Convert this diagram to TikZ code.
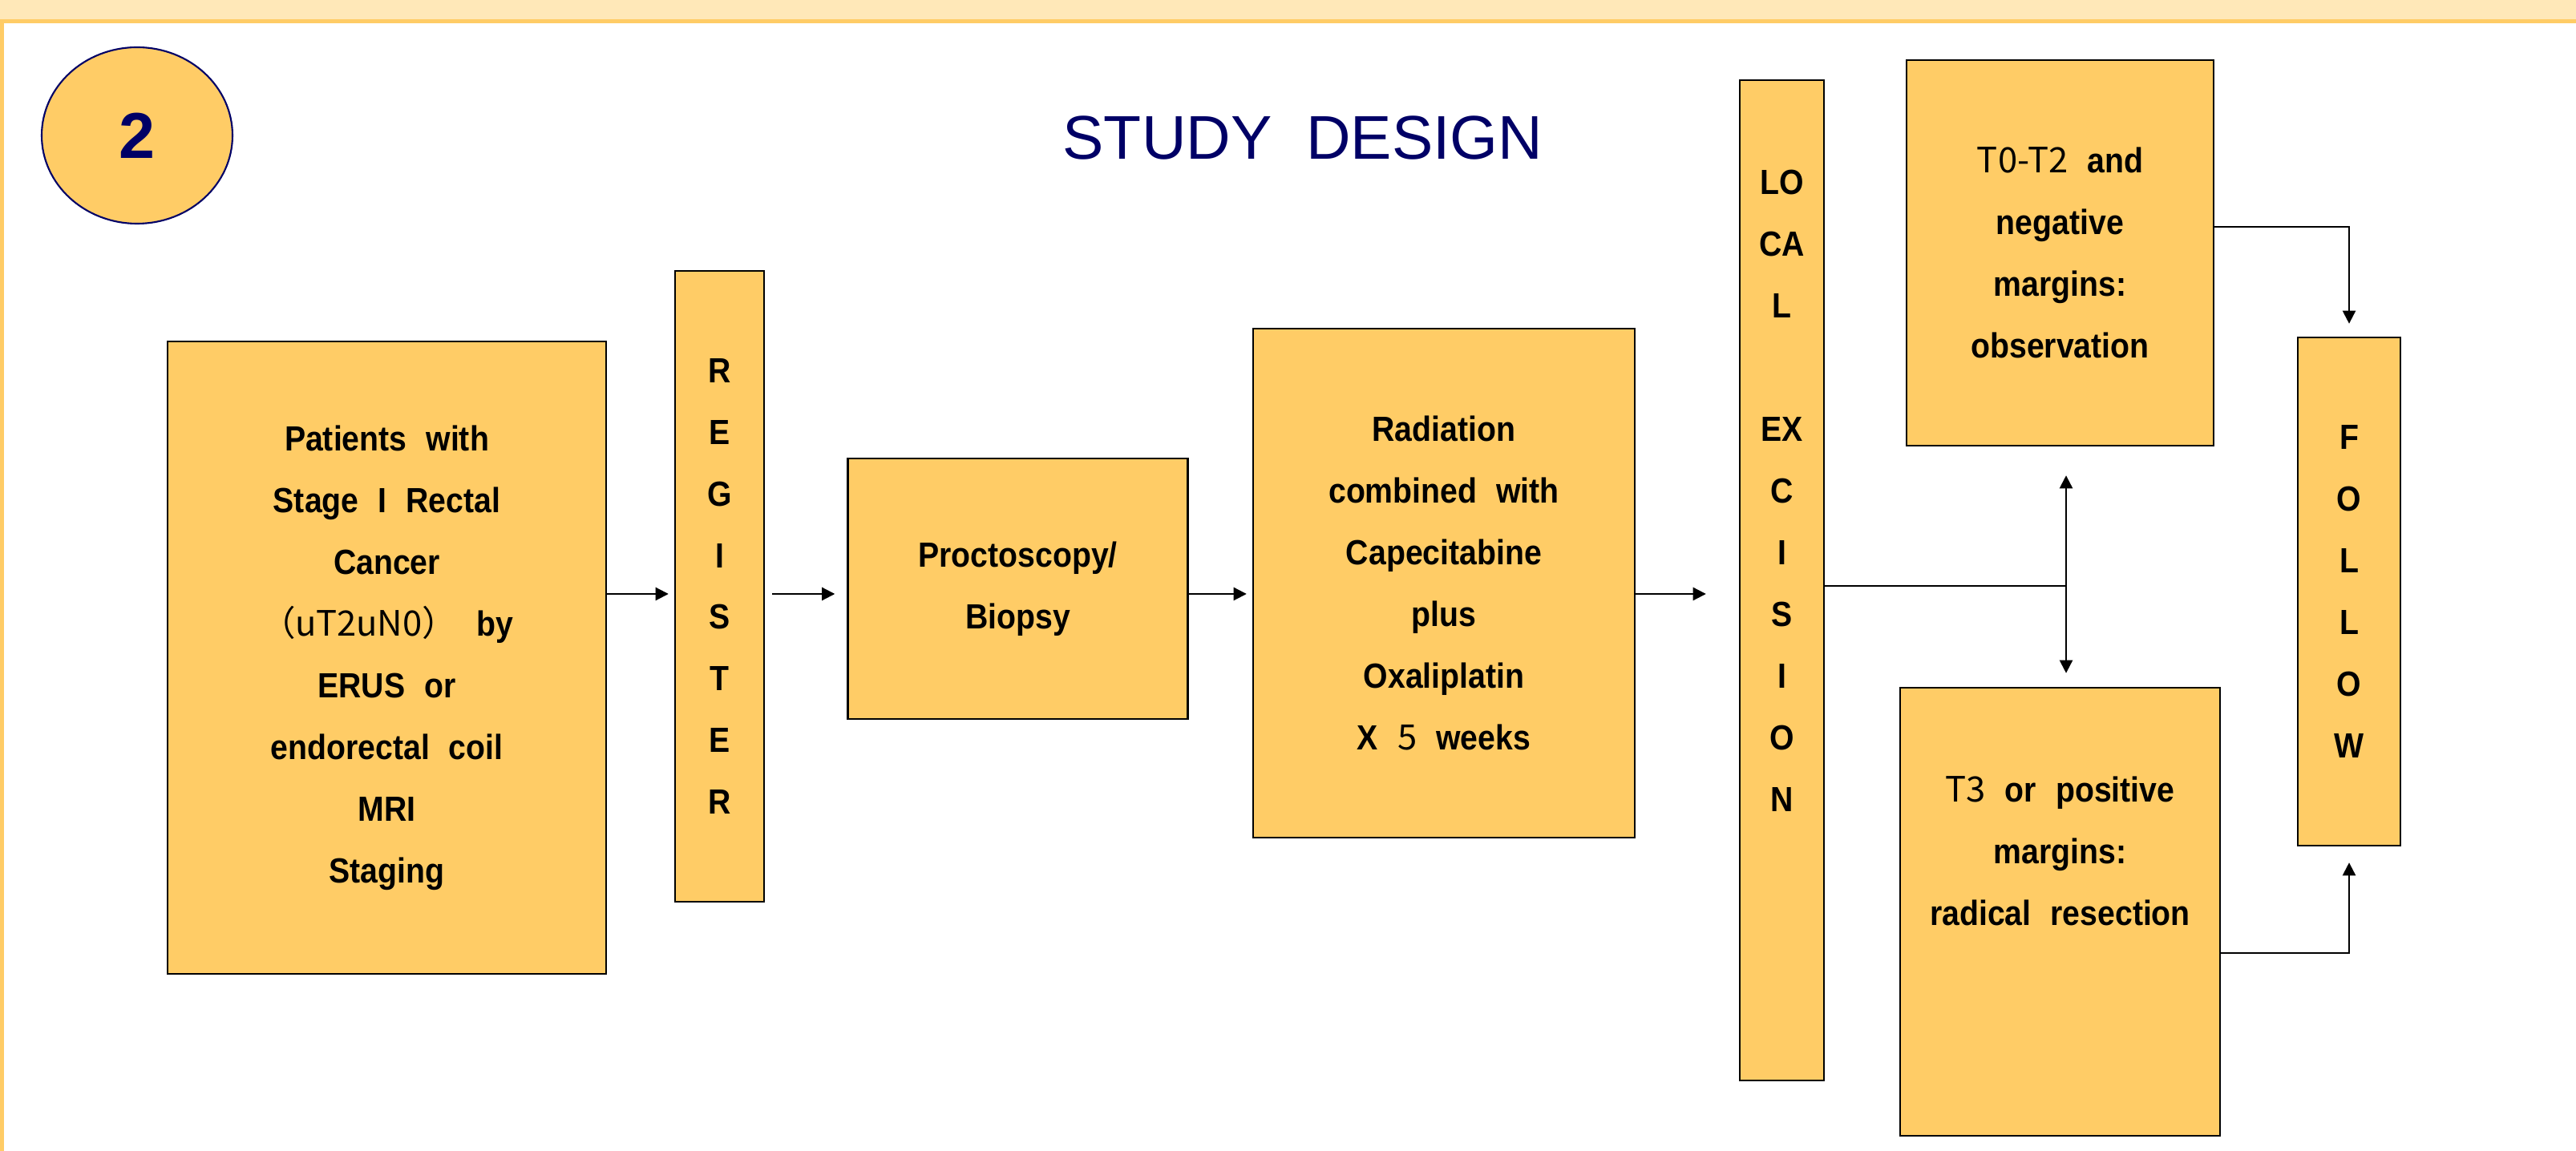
\documentclass[tikz,border=0pt]{standalone}
\usepackage{fontspec}
\setmainfont{Liberation Sans}
\newfontfamily\boxfont[FakeStretch=0.9]{Liberation Sans}
\newfontfamily\cjkfont{Noto Sans CJK SC}
\usetikzlibrary{arrows.meta, shapes.geometric, positioning}
\definecolor{boxfill}{HTML}{FFCC66}
\definecolor{bandfill}{HTML}{FFE8B8}
\definecolor{navy}{HTML}{000066}
\newcommand{\cjk}[1]{{\cjkfont\mdseries #1}}

\begin{document}
\begin{tikzpicture}[
    box/.style = {draw, line width=0.7pt, fill=boxfill, inner sep=0pt},
    boxtext/.style = {align=center, inner sep=0pt,
      font={\boxfont\bfseries\fontsize{12.4}{21.9}\selectfont\spaceskip=0.55em\relax}},
    arr/.style = {line width=0.6pt, -{Triangle[length=4.6pt, width=4.6pt]}},
  ]
  \useasboundingbox (0, 0) rectangle (32.13, -14.36);
  % page frame: light band on top, orange rules
  \fill[bandfill] (0, 0) rectangle (32.13, -0.24);
  \fill[boxfill] (0, -0.24) rectangle (32.13, -0.295);
  \fill[boxfill] (0, -0.24) rectangle (0.05, -14.36);

  \node[ellipse, draw=navy, line width=0.6pt, fill=boxfill, inner sep=0pt,
    minimum width=2.38cm, minimum height=2.2cm, text=navy,
    font=\bfseries\fontsize{23}{28}\selectfont] (num) at (1.71, -1.69) {2};
  \node[anchor=base, text=navy, font=\fontsize{21.9}{26}\selectfont]
    (title) at (16.25, -1.99) {STUDY\ \ DESIGN};

  % boxes
  \node[box, boxtext, minimum width=5.47cm, minimum height=7.89cm] (pat) at (4.825, -8.205)
    {Patients with\\Stage I Rectal\\Cancer\\\cjk{（uT2uN0）} by\\ERUS or\\
     endorectal coil\\MRI\\Staging};
  \node[box, boxtext, minimum width=1.11cm, minimum height=7.87cm] (reg) at (8.975, -7.315)
    {R\\E\\G\\I\\S\\T\\E\\R};
  \node[box, boxtext, minimum width=4.24cm, minimum height=3.25cm] (proc) at (12.695, -7.345)
    {Proctoscopy/\\Biopsy};
  \node[box, boxtext, minimum width=4.76cm, minimum height=6.35cm] (rad) at (18.01, -7.275)
    {Radiation\\combined with\\Capecitabine\\plus\\Oxaliplatin\\X \cjk{5} weeks};
  \node[box, minimum width=1.05cm, minimum height=12.48cm] (local) at (22.225, -7.24) {};
  \node[boxtext, anchor=north] (localtxt) at ([yshift=-1.13cm]local.north)
    {LO\\CA\\L\\[0.77cm]EX\\C\\I\\S\\I\\O\\N};
  \node[box, boxtext, minimum width=3.83cm, minimum height=4.81cm] (t0) at (25.695, -3.155)
    {\cjk{T0-T2} and\\negative\\margins:\\observation};
  \node[box, minimum width=3.99cm, minimum height=5.59cm] (t3) at (25.695, -11.375) {};
  \node[boxtext, anchor=north] (t3txt) at ([yshift=-1.11cm]t3.north)
    {\cjk{T3} or positive\\margins:\\radical resection};
  \node[box, boxtext, minimum width=1.28cm, minimum height=6.34cm] (follow) at (29.30, -7.38)
    {F\\O\\L\\L\\O\\W};

  % connectors
  \coordinate (row) at (0, -7.41);
  \coordinate (fork) at (25.77, -7.307);
  \coordinate (hi) at (0, -2.826);
  \coordinate (lo) at (0, -11.89);
  \draw[arr, shorten >=0.07cm] (row -| pat.east) -- (row -| reg.west);
  \draw[arr, shorten <=0.09cm, shorten >=0.15cm] (row -| reg.east) -- (row -| proc.west);
  \draw[arr, shorten >=0.07cm] (row -| proc.east) -- (row -| rad.west);
  \draw[arr, shorten >=0.41cm] (row -| rad.east) -- (row -| local.west);
  \draw[line width=0.6pt] (fork -| local.east) -- (fork);
  \draw[arr, shorten >=0.36cm] (fork) -- (fork |- t0.south);
  \draw[arr, shorten >=0.17cm] (fork) -- (fork |- t3.north);
  \draw[arr, shorten >=0.16cm] (hi -| t0.east) -| (follow.north);
  \draw[arr, shorten >=0.2cm] (lo -| t3.east) -| (follow.south);
\end{tikzpicture}
\end{document}
